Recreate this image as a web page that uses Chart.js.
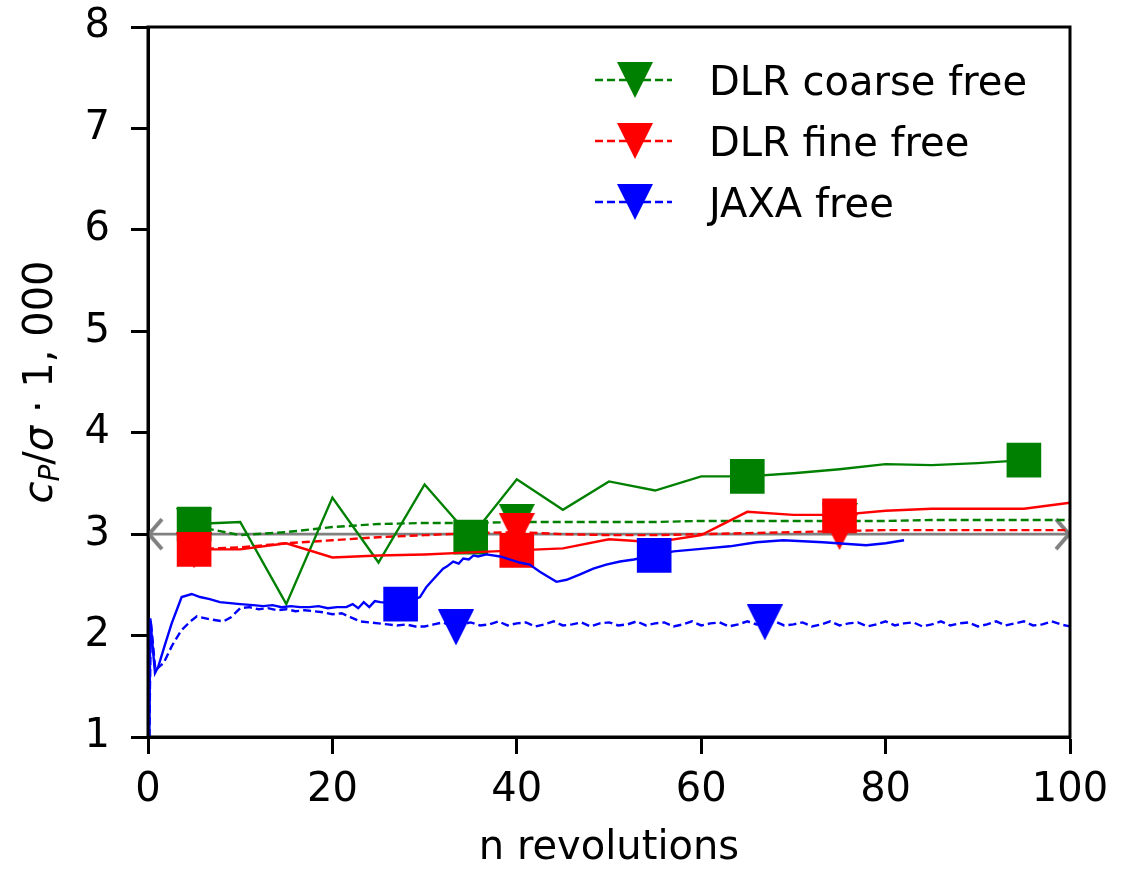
<!DOCTYPE html>
<html>
<head>
<meta charset="utf-8">
<script src="https://cdn.jsdelivr.net/npm/chart.js@4.4.0/dist/chart.umd.min.js"></script>
<style>
    body { margin: 0; background: #fff; }
    #wrap { width: 1128px; height: 869px; }
</style>
</head>
<body>
<div id="wrap"><canvas id="cpChart"></canvas></div>
<script>
// Power coefficient over revolutions: DLR coarse / fine and JAXA, free (dashed) vs fixed (solid)

// axis ticks
const xTicks = [0, 20, 40, 60, 80, 100];
const yTicks = [1, 2, 3, 4, 5, 6, 7, 8];

// DLR grids, one value every 5 revolutions
const dlrCoarseRev = [5, 10, 15, 20, 25, 30, 35, 40, 45, 50, 55, 60, 65, 70, 75, 80, 85, 90, 95];
const dlrCoarseFixed = [3.10, 3.12, 2.31, 3.36, 2.72, 3.49, 2.97, 3.54, 3.24, 3.52, 3.43, 3.57, 3.57, 3.60, 3.64, 3.69, 3.68, 3.70, 3.73];

const dlrRev = [5, 10, 15, 20, 25, 30, 35, 40, 45, 50, 55, 60, 65, 70, 75, 80, 85, 90, 95, 100];
const dlrCoarseFree = [3.08, 2.99, 3.02, 3.07, 3.10, 3.11, 3.11, 3.12, 3.12, 3.12, 3.12, 3.13, 3.13, 3.13, 3.13, 3.13, 3.14, 3.14, 3.14, 3.14];
const dlrFineFixed = [2.85, 2.85, 2.91, 2.77, 2.79, 2.80, 2.82, 2.84, 2.86, 2.95, 2.92, 2.99, 3.22, 3.19, 3.19, 3.23, 3.25, 3.25, 3.25, 3.31];
const dlrFineFree = [2.85, 2.87, 2.91, 2.94, 2.97, 2.99, 3.01, 3.02, 3.00, 2.99, 2.99, 3.00, 3.01, 3.02, 3.03, 3.04, 3.04, 3.04, 3.04, 3.04];

// JAXA, finer time resolution
const jaxaFixedRev = [0.15, 0.25, 0.45, 0.76, 1.1, 1.84, 2.57, 3.65, 4.74, 5.64, 6.7, 7.8, 8.9, 10, 11.4,
    12.5, 13.5, 14.5, 15.5, 16.5, 17.5, 18.5, 19.5, 20.5, 21.5, 22.2, 22.8, 23.4, 24.0, 24.6,
    25.2, 26.3, 27.4, 28.5, 29.5, 30.2, 30.9, 32.0, 32.4, 33.1, 33.7, 34.2, 34.8, 35.3, 35.8,
    36.7, 38.2, 40.3, 41.4, 42.5, 44.3, 45.4, 46.8, 48.3, 49.7, 51.2, 52.7, 54.9, 57.0, 60.6,
    63.1, 66.0, 68.9, 73.2, 77.9, 80.0, 82.0];
const jaxaFixed = [1.00, 2.17, 1.95, 1.63, 1.69, 1.91, 2.12, 2.38, 2.41, 2.38, 2.36, 2.33, 2.32, 2.31, 2.30,
    2.29, 2.30, 2.28, 2.29, 2.28, 2.28, 2.29, 2.27, 2.28, 2.28, 2.31, 2.27, 2.33, 2.28, 2.34,
    2.33, 2.32, 2.31, 2.34, 2.38, 2.48, 2.55, 2.66, 2.68, 2.73, 2.71, 2.76, 2.75, 2.79, 2.78,
    2.80, 2.78, 2.72, 2.70, 2.63, 2.53, 2.55, 2.60, 2.66, 2.70, 2.73, 2.75, 2.79, 2.83, 2.86,
    2.88, 2.92, 2.94, 2.92, 2.89, 2.91, 2.94];

const jaxaFreeRev = [0.15, 0.3, 0.8, 1.7, 2.6, 3.6, 4.6, 5.3, 6.7, 8.2, 9, 10, 11, 12, 13, 14, 15, 16, 17, 18, 19, 20,
    21, 22, 23, 24, 25, 26, 27, 28, 29, 30, 31, 32, 33, 34, 35, 36, 37, 38, 39, 40,
    41, 42, 43, 44, 45, 46, 47, 48, 49, 50, 51, 52, 53, 54, 55, 56, 57, 58, 59, 60,
    61, 62, 63, 64, 65, 66, 67, 68, 69, 70, 71, 72, 73, 74, 75, 76, 77, 78, 79, 80,
    81, 82, 83, 84, 85, 86, 87, 88, 89, 90, 91, 92, 93, 94, 95, 96, 97, 98, 99, 100];
const jaxaFree = [1.00, 2.15, 1.66, 1.73, 1.90, 2.05, 2.14, 2.19, 2.16, 2.14, 2.18, 2.27, 2.28, 2.26, 2.27, 2.25, 2.26, 2.24, 2.25, 2.24, 2.23, 2.21,
    2.22, 2.18, 2.14, 2.13, 2.12, 2.11, 2.10, 2.11, 2.09, 2.09, 2.11, 2.13, 2.09, 2.11, 2.13, 2.10, 2.11, 2.14, 2.10, 2.12,
    2.13, 2.09, 2.11, 2.14, 2.10, 2.11, 2.13, 2.09, 2.12, 2.13, 2.10, 2.11, 2.14, 2.10, 2.12, 2.13, 2.09, 2.11, 2.14, 2.10,
    2.12, 2.13, 2.09, 2.11, 2.14, 2.11, 2.13, 2.14, 2.10, 2.11, 2.13, 2.09, 2.11, 2.14, 2.10, 2.12, 2.13, 2.09, 2.11, 2.14,
    2.10, 2.12, 2.13, 2.09, 2.11, 2.14, 2.10, 2.12, 2.13, 2.09, 2.11, 2.14, 2.10, 2.12, 2.14, 2.10, 2.11, 2.14, 2.11, 2.09];

// marker positions (every few samples)
const coarseSquareRev = [5, 35, 65, 95];
const coarseSquareCp = [3.10, 2.97, 3.57, 3.73];
const fineSquareRev = [5, 40, 75];
const fineSquareCp = [2.85, 2.84, 3.18];
const jaxaSquareRev = [27.4, 54.9];
const jaxaSquareCp = [2.31, 2.79];
const coarseTriRev = [5, 40, 75];
const coarseTriCp = [3.08, 3.12, 3.13];
const fineTriRev = [5, 40, 75];
const fineTriCp = [2.84, 3.03, 3.02];
const jaxaTriRev = [33.4, 66.9];
const jaxaTriCp = [2.08, 2.13];

// reference level
const refRev = [0, 100];
const refCp = [3.0, 3.0];

const legendLabels = ['DLR coarse free', 'DLR fine free', 'JAXA free'];
const legendColors = ['#008000', '#ff0000', '#0000ff'];

const FONT = '"DejaVu Sans", sans-serif';
Chart.defaults.font.family = FONT;
Chart.defaults.color = '#000';

function toPoints(xs, ys) {
    return xs.map((x, i) => ({ x: x, y: ys[i] }));
}

// downward triangle like matplotlib 'v'
function makeTriangle(color, size) {
    const c = document.createElement('canvas');
    c.width = size; c.height = size;
    const g = c.getContext('2d');
    g.fillStyle = color;
    g.beginPath();
    g.moveTo(0, 0);
    g.lineTo(size, 0);
    g.lineTo(size / 2, size);
    g.closePath();
    g.fill();
    return c;
}

// open chevron for the reference line ends
function makeChevron(dir) {
    const c = document.createElement('canvas');
    c.width = 40; c.height = 40;
    const g = c.getContext('2d');
    g.strokeStyle = '#808080';
    g.lineWidth = 4;
    g.beginPath();
    if (dir < 0) {
        g.moveTo(34, 5); g.lineTo(21, 20); g.lineTo(34, 35);
    } else {
        g.moveTo(6, 5); g.lineTo(19, 20); g.lineTo(6, 35);
    }
    g.stroke();
    return c;
}

const triangles = legendColors.map(col => makeTriangle(col, 36));
const chevrons = [makeChevron(-1), makeChevron(1)];

function lineSet(xs, ys, color, dashed, width) {
    return {
        data: toPoints(xs, ys),
        showLine: true,
        borderColor: color,
        backgroundColor: color,
        borderWidth: width || 2.4,
        borderDash: dashed ? [8, 4] : [],
        pointRadius: 0,
        tension: 0
    };
}

function squareSet(xs, ys, color) {
    return {
        data: toPoints(xs, ys),
        showLine: false,
        pointStyle: 'rect',
        pointRadius: 24.5,
        borderWidth: 0,
        backgroundColor: color,
        borderColor: color
    };
}

function triangleSet(xs, ys, img) {
    return {
        data: toPoints(xs, ys),
        showLine: false,
        pointStyle: img,
        pointRadius: 18,
        borderWidth: 0
    };
}

// bottom to top
const layers = [
    Object.assign(lineSet(refRev, refCp, '#808080', false, 2.6), { pointRadius: 18, pointStyle: chevrons }),
    lineSet(dlrRev, dlrCoarseFree, '#008000', true),
    triangleSet(coarseTriRev, coarseTriCp, triangles[0]),
    lineSet(dlrRev, dlrFineFree, '#ff0000', true),
    triangleSet(fineTriRev, fineTriCp, triangles[1]),
    lineSet(jaxaFreeRev, jaxaFree, '#0000ff', true),
    triangleSet(jaxaTriRev, jaxaTriCp, triangles[2]),
    lineSet(dlrCoarseRev, dlrCoarseFixed, '#008000', false),
    squareSet(coarseSquareRev, coarseSquareCp, '#008000'),
    lineSet(dlrRev, dlrFineFixed, '#ff0000', false),
    squareSet(fineSquareRev, fineSquareCp, '#ff0000'),
    lineSet(jaxaFixedRev, jaxaFixed, '#0000ff', false),
    squareSet(jaxaSquareRev, jaxaSquareCp, '#0000ff')
];
layers.forEach((ds, i) => { ds.order = layers.length - i; });

// frame on all four sides, above the data
const framePlugin = {
    id: 'frame',
    afterDatasetsDraw(chart) {
        const { ctx, chartArea: a } = chart;
        ctx.save();
        ctx.strokeStyle = '#000';
        ctx.lineWidth = 3;
        ctx.strokeRect(a.left, a.top, a.right - a.left, a.bottom - a.top);
        ctx.restore();
    }
};

// y axis title with italic symbols and subscript
const yTitlePlugin = {
    id: 'yTitle',
    afterDraw(chart) {
        const ctx = chart.ctx;
        const parts = [
            { text: 'c', font: 'italic 40px ' + FONT },
            { text: 'P', font: 'italic 28px ' + FONT, dy: 7 },
            { text: '/', font: '40px ' + FONT },
            { text: 'σ', font: 'italic 40px ' + FONT },
            { text: ' · ', font: '40px ' + FONT },
            { text: '1, 000', font: '40px ' + FONT }
        ];
        let total = 0;
        ctx.save();
        parts.forEach(p => { ctx.font = p.font; p.w = ctx.measureText(p.text).width; total += p.w; });
        const cy = (chart.chartArea.top + chart.chartArea.bottom) / 2;
        ctx.translate(52, cy);
        ctx.rotate(-Math.PI / 2);
        ctx.fillStyle = '#000';
        ctx.textBaseline = 'alphabetic';
        let x = -total / 2;
        parts.forEach(p => {
            ctx.font = p.font;
            ctx.fillText(p.text, x, p.dy || 0);
            x += p.w;
        });
        ctx.restore();
    }
};

// legend for the free runs only
const legendPlugin = {
    id: 'freeLegend',
    afterDraw(chart) {
        const ctx = chart.ctx;
        legendLabels.forEach((label, i) => {
            const y = 80 + i * 61;
            ctx.save();
            ctx.strokeStyle = legendColors[i];
            ctx.lineWidth = 2.4;
            ctx.setLineDash([8, 4]);
            ctx.beginPath();
            ctx.moveTo(595, y);
            ctx.lineTo(672, y);
            ctx.stroke();
            ctx.drawImage(triangles[i], 635 - 18, y - 18);
            ctx.fillStyle = '#000';
            ctx.font = '40px ' + FONT;
            ctx.textBaseline = 'alphabetic';
            ctx.fillText(label, 709, y + 15);
            ctx.restore();
        });
    }
};

new Chart(document.getElementById('cpChart'), {
    type: 'scatter',
    data: { datasets: layers },
    options: {
        responsive: true,
        maintainAspectRatio: false,
        animation: false,
        layout: { padding: { left: 0, right: 58, top: 27, bottom: 0 } },
        plugins: {
            legend: { display: false },
            tooltip: { enabled: false }
        },
        scales: {
            x: {
                type: 'linear',
                min: 0,
                max: 100,
                afterFit: s => { s.height = 132; s.paddingLeft = 0; s.paddingRight = 0; },
                afterBuildTicks: s => { s.ticks = xTicks.map(v => ({ value: v })); },
                ticks: { font: { size: 40 }, color: '#000', padding: 13, maxRotation: 0 },
                grid: { drawOnChartArea: false, drawTicks: true, tickLength: 17, tickWidth: 3, tickColor: '#000' },
                border: { display: true, width: 3, color: '#000' },
                title: { display: true, text: 'n revolutions', color: '#000', font: { size: 40, lineHeight: 1 }, padding: { top: 0, bottom: 0 } }
            },
            y: {
                type: 'linear',
                min: 1,
                max: 8,
                afterFit: s => { s.width = 148; s.paddingTop = 0; s.paddingBottom = 0; },
                afterBuildTicks: s => { s.ticks = yTicks.map(v => ({ value: v })); },
                ticks: { font: { size: 40 }, color: '#000', padding: 21 },
                grid: { drawOnChartArea: false, drawTicks: true, tickLength: 17, tickWidth: 3, tickColor: '#000' },
                border: { display: true, width: 3, color: '#000' }
            }
        }
    },
    plugins: [framePlugin, yTitlePlugin, legendPlugin]
});
</script>
</body>
</html>
